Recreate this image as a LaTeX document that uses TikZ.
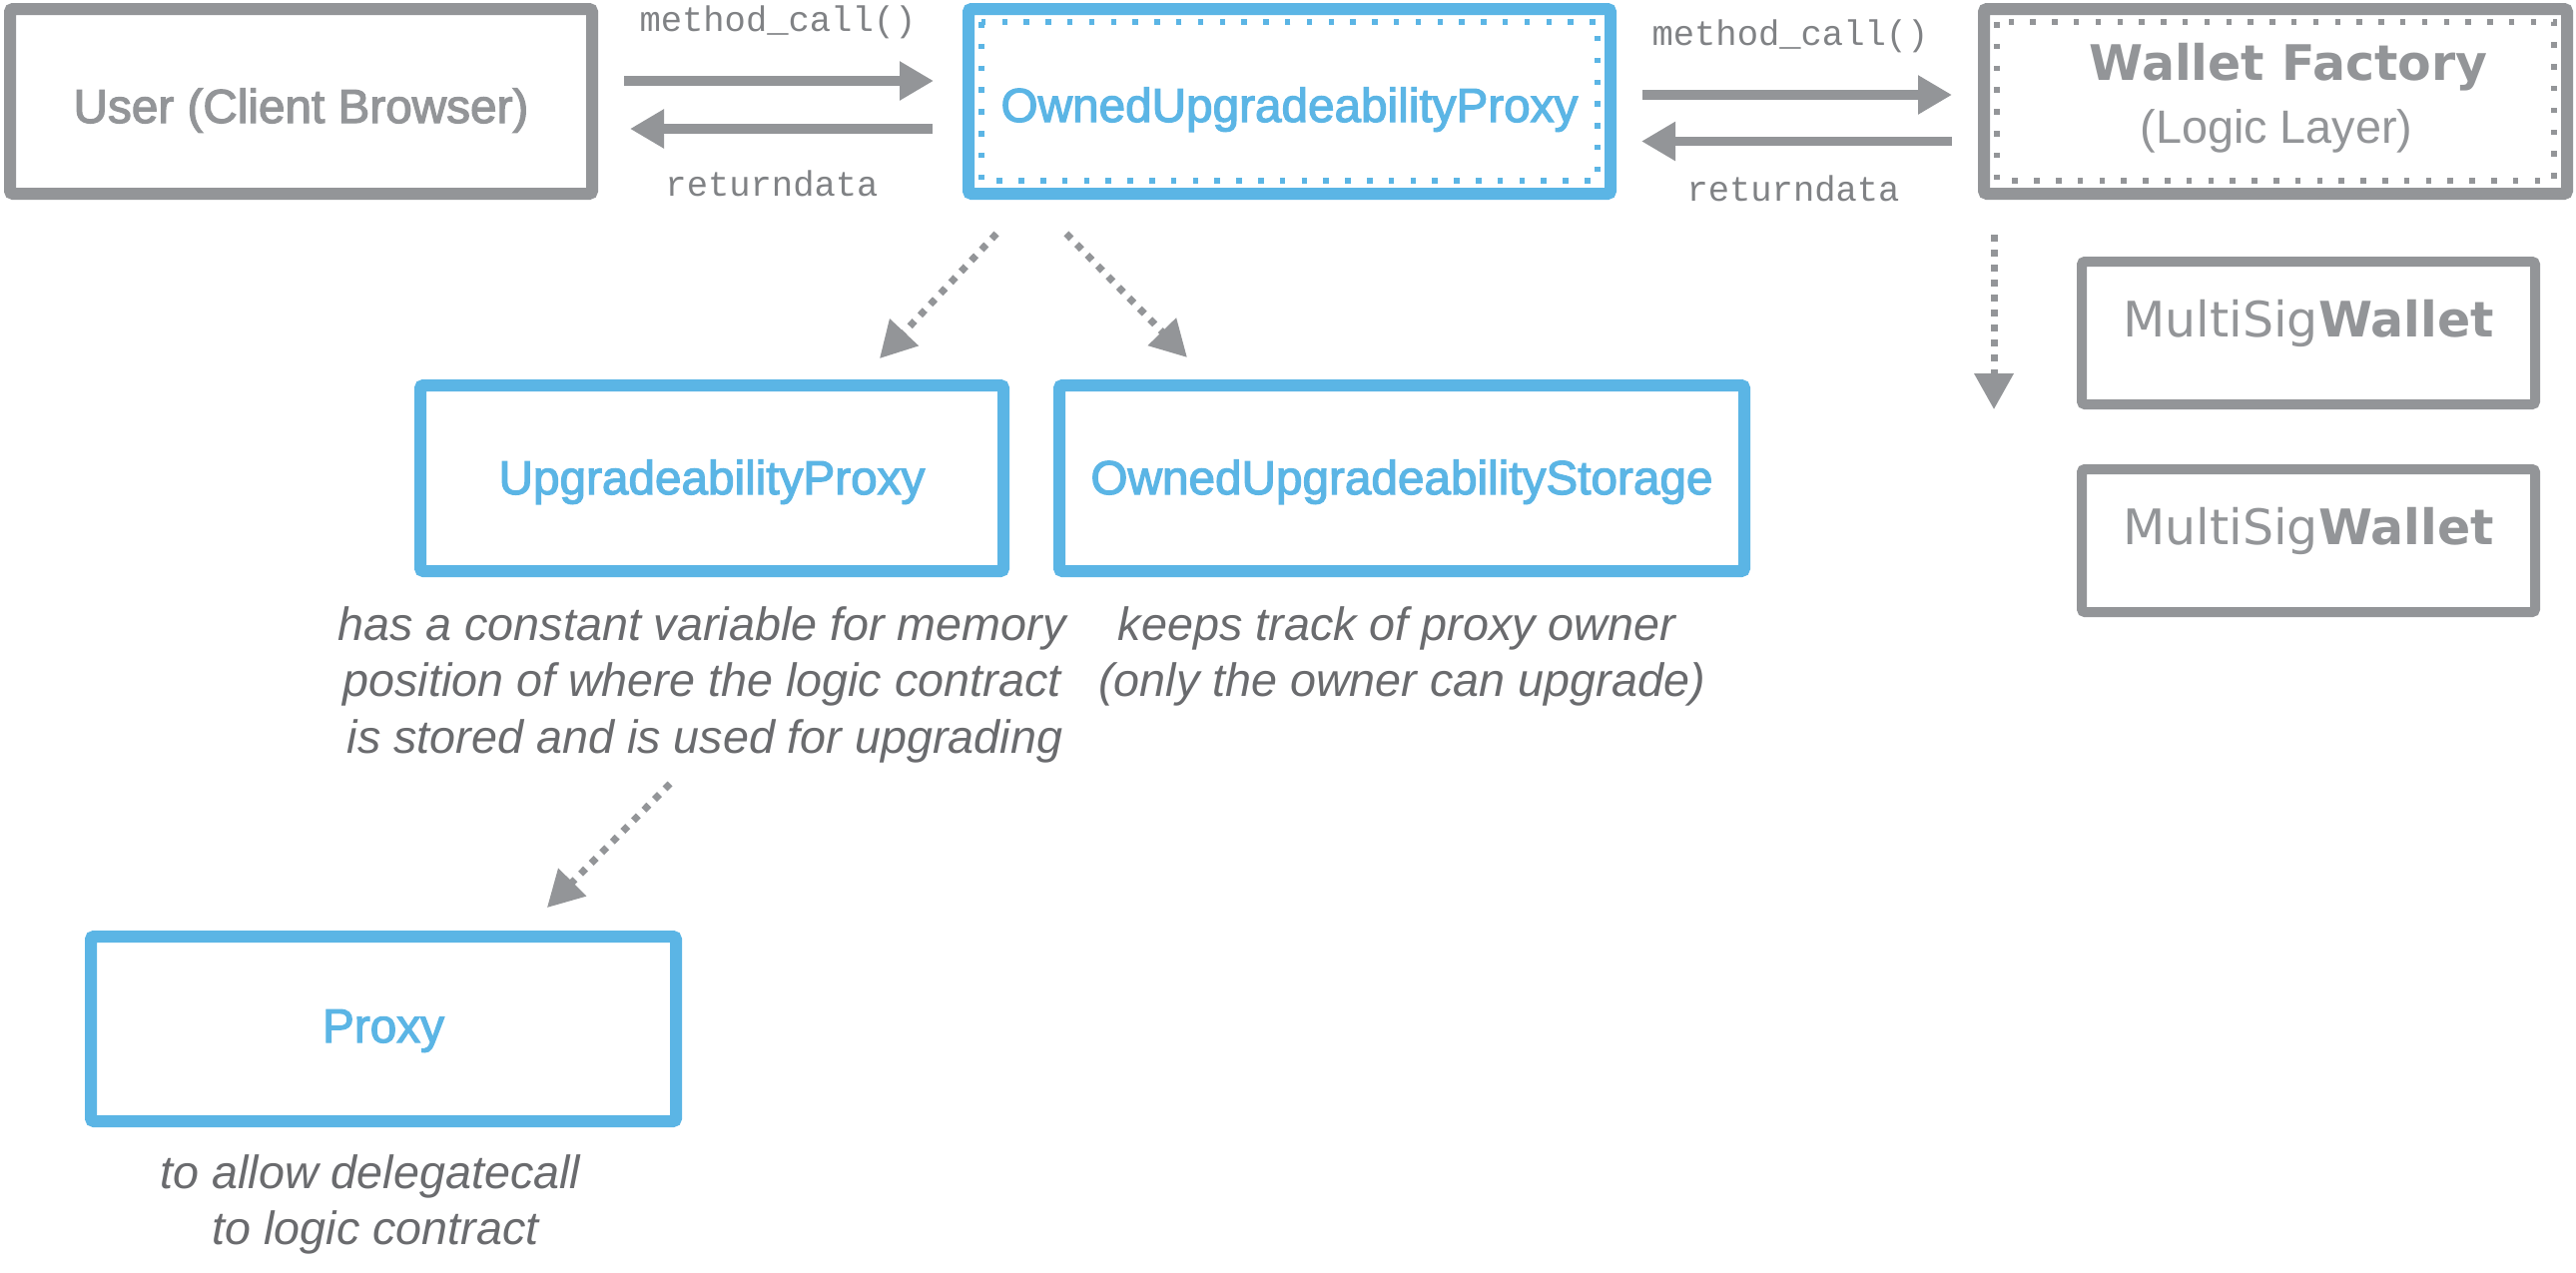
\documentclass[tikz,border=0pt]{standalone}
\usepackage{fontspec}
\setmainfont{Liberation Sans}
\newfontfamily\medfont[FakeBold=2.5]{Liberation Sans}
\newfontfamily\djv{DejaVu Sans}
\newfontfamily\monof{Liberation Mono}
\usetikzlibrary{arrows.meta}
\definecolor{gry}{HTML}{939598}
\definecolor{blu}{HTML}{5BB5E5}
\definecolor{capc}{HTML}{6A6B6E}
\definecolor{monoc}{HTML}{808285}
\begin{document}
\begin{tikzpicture}[x=0.5pt,y=-0.5pt,
  box/.style={draw, line width=6pt, rounded corners=1.5pt, inner sep=0pt, outer sep=0pt, text depth=0pt},
  graybox/.style={box, draw=gry, text=gry},
  bluebox/.style={box, draw=blu, text=blu},
  lbl/.style={font=\medfont\fontsize{23.85pt}{28pt}\selectfont},
  msbox/.style={graybox, line width=5pt, minimum width=227pt, minimum height=71.5pt, text height=3.5pt, font=\djv\fontsize{24.5pt}{29pt}\selectfont},
  captxt/.style={anchor=base, inner sep=0pt, text=capc, font=\fontsize{23.35pt}{28pt}\selectfont\itshape},
  monotxt/.style={anchor=base, inner sep=0pt, text=monoc, font=\monof\fontsize{17.75pt}{21pt}\selectfont},
  innerdots/.style={line width=2.75pt, dash pattern=on 2.75pt off 8.15pt},
  solidarr/.style={draw=gry, line width=4.75pt, -{Triangle[length=17pt,width=18.5pt]}},
  dotarr/.style={draw=gry, line width=3.5pt, dash pattern=on 3.5pt off 4pt, -{Triangle[length=18pt,width=19pt]}}
]
\fill[white] (0,0) rectangle (2580,1274);
\useasboundingbox (0,0) rectangle (2580,1274);

% top row
\node[graybox, lbl, minimum width=291.5pt, minimum height=92.5pt, text height=21.5pt] (user) at (301.5,101.5) {User (Client Browser)};
\node[bluebox, lbl, minimum width=321.5pt, minimum height=92.5pt, text height=20.5pt] (oup) at (1291.5,101.5) {OwnedUpgradeabilityProxy};
\draw[innerdots, draw=blu] ([shift={(13,13)}]oup.north west) rectangle ([shift={(-13,-13)}]oup.south east);
\node[graybox, minimum width=292pt, minimum height=92.5pt] (wf) at (2279,101.5) {};
\draw[innerdots, draw=gry] ([shift={(13,13)}]wf.north west) rectangle ([shift={(-13,-13)}]wf.south east);
\node[anchor=base, inner sep=0pt, text=gry, font=\djv\bfseries\fontsize{24.5pt}{29pt}\selectfont] (wft) at (2292,80) {Wallet Factory};
\node[anchor=base, inner sep=0pt, text=gry, font=\fontsize{23.4pt}{28pt}\selectfont] (wfs) at (2280,143) {(Logic Layer)};

% wallets
\node[msbox] (ms1) at (2312,333.5) {MultiSig\textbf{Wallet}};
\node[msbox] (ms2) at (2312,541.5) {MultiSig\textbf{Wallet}};

% middle row
\node[bluebox, lbl, minimum width=292pt, minimum height=93pt, text height=16pt] (up) at (713,479) {UpgradeabilityProxy};
\node[bluebox, lbl, minimum width=343pt, minimum height=93pt, text height=16pt] (ous) at (1404,479) {OwnedUpgradeabilityStorage};
\node[bluebox, lbl, minimum width=293pt, minimum height=92.5pt, text height=13.5pt] (proxy) at (384,1030.5) {Proxy};

% captions
\node[captxt] (upc1) at (703,641) {has a constant variable for memory};
\node[captxt] (upc2) at (703,697) {position of where the logic contract};
\node[captxt] (upc3) at (706,754) {is stored and is used for upgrading};
\node[captxt] (ousc1) at (1399,641) {keeps track of proxy owner};
\node[captxt] (ousc2) at (1404,697) {(only the owner can upgrade)};
\node[captxt] (pc1) at (371,1190) {to allow delegatecall};
\node[captxt] (pc2) at (376,1246) {to logic contract};

% arrow labels
\node[monotxt] (mc1) at (779,32) {method\_call()};
\node[monotxt] (rd1) at (773,196) {returndata};
\node[monotxt] (mc2) at (1793,46) {method\_call()};
\node[monotxt] (rd2) at (1796,201) {returndata};

% solid arrows
\draw[solidarr, shorten <=16pt, shorten >=17.5pt] ([yshift=10.25pt]user.east) -- ([yshift=10.25pt]oup.west);
\draw[solidarr, shorten <=18pt, shorten >=19pt] ([yshift=-13.75pt]oup.west) -- ([yshift=-13.75pt]user.east);
\draw[solidarr, shorten <=16pt, shorten >=16pt] ([yshift=3.25pt]oup.east) -- ([yshift=3.25pt]wf.west);
\draw[solidarr, shorten <=16pt, shorten >=15.5pt] ([yshift=-20pt]wf.west) -- ([yshift=-20pt]oup.east);

% dotted arrows
\draw[dotarr, shorten <=27.4pt, shorten >=18.5pt] ([xshift=-128pt]oup.south) -- ([xshift=71.35pt]up.north);
\draw[dotarr, shorten <=27.9pt, shorten >=19.6pt] ([xshift=-131.25pt]oup.south) -- ([xshift=-93.85pt]ous.north);
\draw[dotarr, shorten <=150pt, shorten >=20.4pt] ([xshift=84.65pt]up.south) -- ([xshift=67.6pt]proxy.north);
\coordinate (wfend) at (1997,410);
\draw[dotarr, shorten <=20.5pt] ([xshift=-141pt]wf.south) -- (wfend);
\end{tikzpicture}
\end{document}
